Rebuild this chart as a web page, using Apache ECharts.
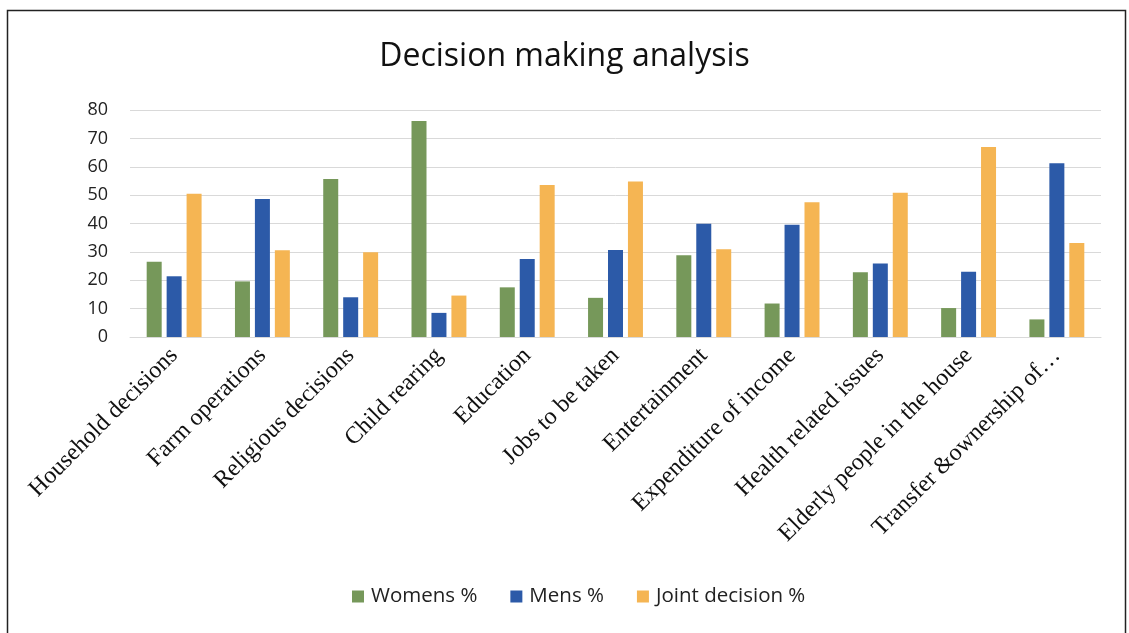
<!DOCTYPE html>
<html>
<head>
<meta charset="utf-8">
<script src="https://cdn.jsdelivr.net/npm/echarts@6/dist/echarts.min.js"></script>
<style>
  html, body { margin: 0; padding: 0; background: #fff; }
  #chart { width: 1129px; height: 633px; }
</style>
</head>
<body>
<div id="chart"></div>
<script>
// Decision categories along the x axis
const categories = [
  'Household decisions', 'Farm operations', 'Religious decisions', 'Child rearing',
  'Education', 'Jobs to be taken', 'Entertainment', 'Expenditure of income',
  'Health related issues', 'Elderly people in the house', 'Transfer &ownership of…'
];

// Share of respondents (%) by who makes the decision
const womens = [26.5, 19.6, 55.7, 76.1, 17.5, 13.8, 28.8, 11.8, 22.8, 10.2, 6.2];
const mens   = [21.4, 48.6, 14.0,  8.5, 27.5, 30.7, 39.9, 39.6, 25.9, 23.0, 61.2];
const joint  = [50.5, 30.6, 29.9, 14.6, 53.6, 54.8, 30.9, 47.5, 50.8, 67.0, 33.1];

const yTicks = { min: 0, max: 80, interval: 10 };

const chart = echarts.init(document.getElementById('chart'));
const sans = '"Open Sans", "Liberation Sans", sans-serif';
const serif = '"Liberation Serif", "DejaVu Serif", serif';

chart.setOption({
  animation: false,
  backgroundColor: '#ffffff',
  title: {
    text: 'Decision making analysis',
    left: 'center',
    top: 36,
    textStyle: { fontFamily: sans, fontSize: 32, fontWeight: 'normal', color: '#111' }
  },
  legend: {
    bottom: 21,
    left: 347,
    itemWidth: 12,
    itemHeight: 12,
    itemGap: 33,
    icon: 'rect',
    textStyle: { fontFamily: sans, fontSize: 20.5, color: '#222', padding: [0, 0, 0, 2] },
    data: ['Womens %', 'Mens %', 'Joint decision %']
  },
  grid: { left: 130, right: 28, top: 110, bottom: 296, containLabel: false },
  xAxis: {
    type: 'category',
    data: categories,
    axisLine: { show: true, lineStyle: { color: '#d9d9d9' } },
    axisTick: { show: false },
    axisLabel: {
      interval: 0,
      rotate: 45,
      margin: 15,
      fontFamily: serif,
      fontSize: 24,
      color: '#111'
    }
  },
  yAxis: {
    type: 'value',
    min: yTicks.min,
    max: yTicks.max,
    interval: yTicks.interval,
    axisLine: { show: false },
    axisTick: { show: false },
    axisLabel: { fontFamily: sans, fontSize: 18, color: '#222', margin: 22 },
    splitLine: { lineStyle: { color: '#d9d9d9', width: 1 } }
  },
  series: [
    { name: 'Womens %', type: 'bar', data: womens, barWidth: 15, barGap: '33%',
      itemStyle: { color: '#76985a' } },
    { name: 'Mens %', type: 'bar', data: mens, barWidth: 15, barGap: '33%',
      itemStyle: { color: '#2c5aa8' } },
    { name: 'Joint decision %', type: 'bar', data: joint, barWidth: 15, barGap: '33%',
      itemStyle: { color: '#f5b553' } }
  ],
  graphic: [
    {
      type: 'rect',
      shape: { x: 7.5, y: 10.5, width: 1118, height: 640 },
      style: { fill: 'none', stroke: '#222', lineWidth: 1.5 },
      silent: true
    }
  ]
});
</script>
</body>
</html>
